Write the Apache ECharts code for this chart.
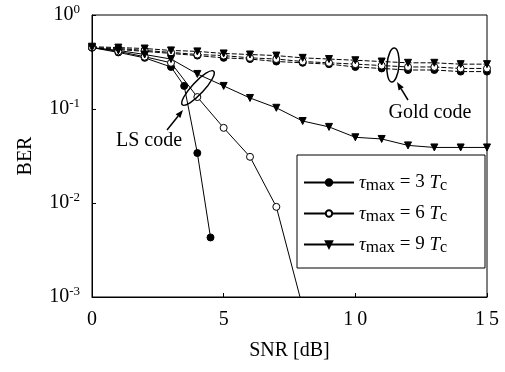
<!DOCTYPE html>
<html>
<head>
<meta charset="utf-8">
<title>BER vs SNR</title>
<script src="https://cdn.jsdelivr.net/npm/echarts@6/dist/echarts.min.js"></script>
<style>
  html, body { margin: 0; padding: 0; background: #fff; }
  #main { width: 505px; height: 372px; }
</style>
</head>
<body>
<div id="main"></div>
<script>
    // LS code curves
    var snrLS3 = [0, 1, 2, 3, 3.5, 4, 4.5];
    var berLS3 = [0.45, 0.40, 0.35, 0.28, 0.176, 0.034, 0.0043];
    var snrLS6 = [0, 1, 2, 3, 4, 5, 6, 7, 8];
    var berLS6 = [0.45, 0.41, 0.36, 0.31, 0.134, 0.063, 0.031, 0.0091, 0.00078];
    var snrLS9 = [0, 1, 2, 3, 4, 5, 6, 7, 8, 9, 10, 11, 12, 13, 14, 15];
    var berLS9 = [0.45, 0.42, 0.38, 0.34, 0.236, 0.176, 0.131, 0.103, 0.0745, 0.0645, 0.050, 0.048, 0.041, 0.039, 0.039, 0.039];

    // Gold code curves
    var snrGold = [0, 1, 2, 3, 4, 5, 6, 7, 8, 9, 10, 11, 12, 13, 14, 15];
    var berGold3 = [0.45, 0.43, 0.41, 0.39, 0.37, 0.35, 0.34, 0.32, 0.31, 0.30, 0.28, 0.27, 0.26, 0.26, 0.25, 0.25];
    var berGold6 = [0.45, 0.44, 0.42, 0.40, 0.38, 0.37, 0.35, 0.34, 0.32, 0.31, 0.30, 0.29, 0.28, 0.28, 0.27, 0.27];
    var berGold9 = [0.46, 0.45, 0.44, 0.42, 0.41, 0.39, 0.38, 0.37, 0.35, 0.34, 0.33, 0.32, 0.31, 0.31, 0.30, 0.30];

    var xTicks = [0, 5, 10, 15];
    var legendNames = ['3', '6', '9'];

    function pairs(xs, ys) {
        var out = [];
        for (var i = 0; i < xs.length; i++) out.push([xs[i], ys[i]]);
        return out;
    }

    var FONT = '"Liberation Serif", "DejaVu Serif", serif';

    var marks = {
        '3': { symbol: 'circle', fill: '#000', rotate: 0 },
        '6': { symbol: 'circle', fill: '#fff', rotate: 0 },
        '9': { symbol: 'triangle', fill: '#000', rotate: 180 }
    };

    function makeSeries(name, data, k, dashed) {
        var m = marks[k];
        return {
            name: name,
            type: 'line',
            data: data,
            symbol: m.symbol,
            symbolSize: 7,
            symbolRotate: m.rotate,
            showAllSymbol: true,
            clip: true,
            z: dashed ? 3 : 4,
            lineStyle: { color: '#000', width: 1, type: dashed ? [5, 2] : 'solid' },
            itemStyle: { color: m.fill, borderColor: '#000', borderWidth: 1 },
            emphasis: { disabled: true },
            animation: false
        };
    }

    function arrow(x1, y1, x2, y2) {
        var ang = Math.atan2(y2 - y1, x2 - x1);
        var L = 8, W = 3;
        var bx = x2 - L * Math.cos(ang), by = y2 - L * Math.sin(ang);
        var px = -Math.sin(ang) * W, py = Math.cos(ang) * W;
        return [
            { type: 'line', shape: { x1: x1, y1: y1, x2: bx, y2: by }, style: { stroke: '#000', lineWidth: 1.5 }, z: 10 },
            { type: 'polygon', shape: { points: [[x2, y2], [bx + px, by + py], [bx - px, by - py]] }, style: { fill: '#000' }, z: 10 }
        ];
    }

    var myChart = echarts.init(document.getElementById('main'));
    var option = {
        animation: false,
        grid: { left: 92, right: 18, top: 15, bottom: 75, show: true, borderColor: '#000', borderWidth: 1 },
        xAxis: {
            type: 'value',
            min: 0, max: 15, interval: 5,
            name: 'SNR [dB]',
            nameLocation: 'middle',
            nameGap: 44,
            nameTextStyle: { fontFamily: FONT, fontSize: 20, color: '#000' },
            axisLine: { lineStyle: { color: '#000' } },
            axisTick: { inside: true, length: 4, lineStyle: { color: '#000' } },
            axisLabel: {
                fontFamily: FONT, fontSize: 20, color: '#000', margin: 13,
                formatter: function (v) { return xTicks.indexOf(v) >= 0 ? String(v).split('').join('\u2009') : ''; }
            },
            splitLine: { show: false }
        },
        yAxis: {
            type: 'log',
            logBase: 10,
            min: 0.001, max: 1,
            name: 'BER',
            nameLocation: 'middle',
            nameGap: 56,
            nameTextStyle: { fontFamily: FONT, fontSize: 20, color: '#000' },
            axisLine: { lineStyle: { color: '#000' } },
            axisTick: { inside: true, length: 4, lineStyle: { color: '#000' } },
            minorTick: { show: false },
            axisLabel: {
                margin: 12,
                formatter: function (v) {
                    var e = Math.round(Math.log(v) / Math.LN10);
                    return '{b|10}{e|' + e + '}';
                },
                rich: {
                    b: { fontFamily: FONT, fontSize: 20, color: '#000' },
                    e: { fontFamily: FONT, fontSize: 13, color: '#000', padding: [0, 0, 10, 0] }
                }
            },
            splitLine: { show: false }
        },
        legend: {
            data: legendNames,
            orient: 'vertical',
            left: 298,
            top: 168,
            z: 10,
            itemWidth: 50,
            itemHeight: 8,
            itemGap: 10,
            selectedMode: false,
            formatter: function (name) {
                return '{t|\u03c4}{s|max}{n| = ' + name + ' }{t|T}{c|c}';
            },
            textStyle: {
                fontFamily: FONT, fontSize: 18, color: '#000',
                rich: {
                    t: { fontFamily: FONT, fontSize: 19, fontStyle: 'italic', color: '#000' },
                    n: { fontFamily: FONT, fontSize: 19, color: '#000' },
                    s: { fontFamily: FONT, fontSize: 17, color: '#000', padding: [6, 0, 0, 0] },
                    c: { fontFamily: FONT, fontSize: 16, color: '#000', padding: [6, 0, 0, 0] }
                }
            }
        },
        graphic: [
            { type: 'rect', shape: { x: 297, y: 155, width: 188, height: 113 }, style: { fill: '#fff', stroke: '#000', lineWidth: 1 }, z: 5 },
            { type: 'text', x: 149, y: 141, style: { text: 'LS code', font: '20px ' + FONT, fill: '#000', align: 'center', verticalAlign: 'middle' }, z: 10 },
            { type: 'text', x: 430, y: 113, style: { text: 'Gold code', font: '20px ' + FONT, fill: '#000', align: 'center', verticalAlign: 'middle' }, z: 10 },
            { type: 'ellipse', x: 198, y: 88, rotation: 0.82, shape: { cx: 0, cy: 0, rx: 23, ry: 6 }, style: { fill: 'none', stroke: '#000', lineWidth: 1.5 }, z: 10 },
            { type: 'ellipse', x: 393, y: 65, rotation: -0.08, shape: { cx: 0, cy: 0, rx: 6, ry: 17 }, style: { fill: 'none', stroke: '#000', lineWidth: 1.5 }, z: 10 }
        ].concat(arrow(167, 130, 183, 110)).concat(arrow(408, 100, 397, 82)),
        series: [
            makeSeries('3', pairs(snrLS3, berLS3), '3', false),
            makeSeries('6', pairs(snrLS6, berLS6), '6', false),
            makeSeries('9', pairs(snrLS9, berLS9), '9', false),
            makeSeries('gold3', pairs(snrGold, berGold3), '3', true),
            makeSeries('gold6', pairs(snrGold, berGold6), '6', true),
            makeSeries('gold9', pairs(snrGold, berGold9), '9', true)
        ]
    };
    myChart.setOption(option);
</script>
</body>
</html>
